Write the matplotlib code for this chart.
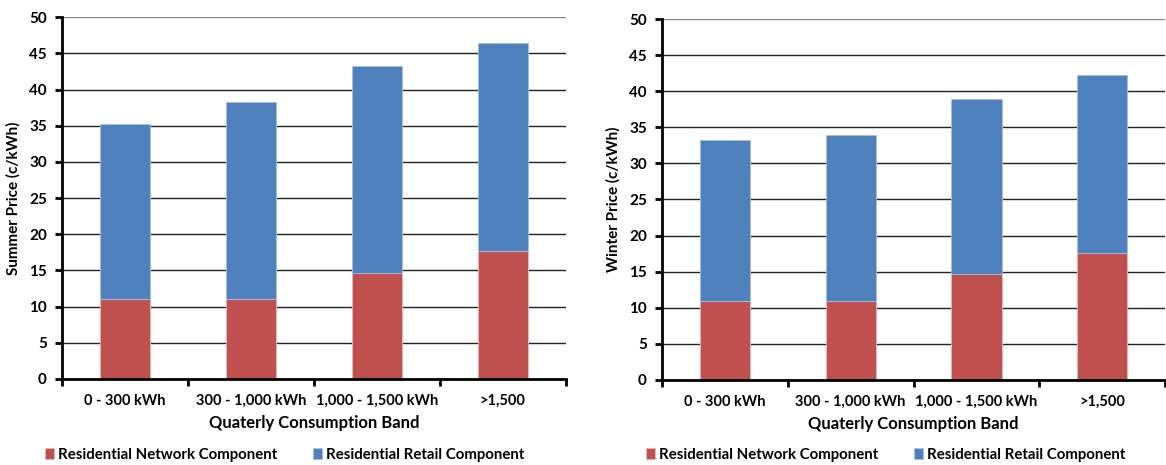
import matplotlib.pyplot as plt
import numpy as np

plt.rcParams['font.family'] = ['Lato', 'DejaVu Sans']
plt.rcParams['font.weight'] = 'bold'

bands = ['0 - 300 kWh', '300 - 1,000 kWh', '1,000 - 1,500 kWh', '>1,500']
summer_network = [11.0, 11.0, 14.7, 17.7]
summer_total = [35.2, 38.3, 43.2, 46.5]
winter_network = [11.0, 11.0, 14.7, 17.6]
winter_total = [33.3, 34.0, 38.9, 42.2]

red = '#C0504D'
blue = '#4F81BD'

fig = plt.figure(figsize=(11.66, 4.65), dpi=100)
ax1 = fig.add_axes([0.0532, 0.185, 0.432, 0.778])
ax2 = fig.add_axes([0.5678, 0.183, 0.4314, 0.776])


def draw(ax, network, total, ylabel, leg_x):
    x = np.arange(len(bands))
    retail = np.array(total) - np.array(network)
    h1 = ax.bar(x, network, width=0.4, color=red, edgecolor='#e6b9b8', linewidth=0.6,
                label='Residential Network Component', zorder=3)
    h2 = ax.bar(x, retail, bottom=network, width=0.4, color=blue, edgecolor='#a8c0e0',
                linewidth=0.6, label='Residential Retail Component', zorder=3)
    ax.set_xlim(-0.5, 3.5)
    ax.set_ylim(0, 50)
    ax.set_yticks(range(0, 51, 5))
    ax.yaxis.grid(True, color='#222222', linewidth=1.0, zorder=0)
    # top gridline is lighter in the original
    ax.get_ygridlines()[-1].set_color('#888888')
    ax.set_xticks(np.arange(-0.5, 4, 1))
    ax.set_xticklabels([])
    ax.set_xticks(x, minor=True)
    ax.set_xticklabels(bands, minor=True, fontsize=10.5, fontweight='bold')
    ax.tick_params(axis='x', which='minor', length=0, pad=11)
    ax.tick_params(axis='x', which='major', length=5, width=2, direction='out')
    ax.tick_params(axis='y', length=5, width=2, direction='out', labelsize=11, pad=6)
    for lbl in ax.get_yticklabels():
        lbl.set_fontweight('bold')
    for s in ['top', 'right']:
        ax.spines[s].set_visible(False)
    for s in ['left', 'bottom']:
        ax.spines[s].set_linewidth(2)
        ax.spines[s].set_zorder(4)
    ax.set_xlabel('Quaterly Consumption Band', fontsize=12, fontweight='bold', labelpad=5)
    ax.set_ylabel(ylabel, fontsize=11, fontweight='bold', labelpad=6)
    fig.legend(handles=[h1, h2], loc='center left', bbox_to_anchor=(leg_x, 0.022),
               ncol=2, frameon=False, fontsize=10.8, handlelength=0.6, handleheight=0.75,
               handletextpad=0.25, columnspacing=2.4, borderaxespad=0, borderpad=0)


draw(ax1, summer_network, summer_total, 'Summer Price (c/kWh)', 0.039)
draw(ax2, winter_network, winter_total, 'Winter Price (c/kWh)', 0.554)

fig.savefig('out.png', dpi=100)
